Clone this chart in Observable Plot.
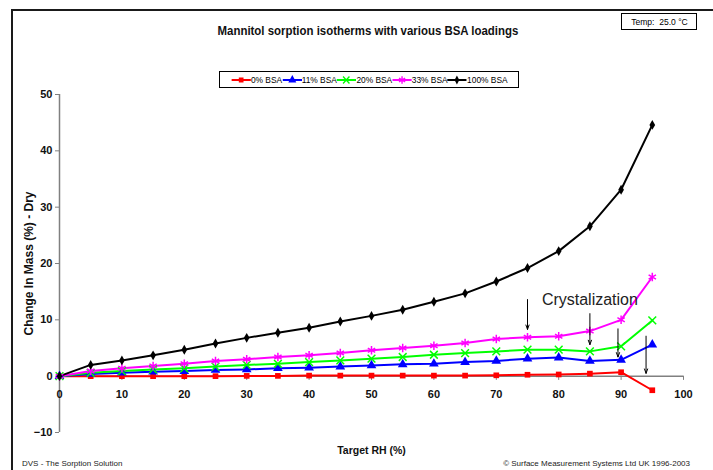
<!DOCTYPE html>
<html>
<head>
<meta charset="utf-8">
<script src="https://cdn.jsdelivr.net/npm/d3@7"></script>
<script src="https://cdn.jsdelivr.net/npm/@observablehq/plot@0.6"></script>
<style>
  html, body { margin: 0; padding: 0; background: #fff; }
  body { font-family: "Liberation Sans", Arial, sans-serif; }
  #wrap { position: relative; width: 713px; height: 470px; overflow: hidden; background: #fff; }
  #wrap svg.plot { position: absolute; left: 0; top: 0; }
  .frame { position: absolute; left: 11px; top: 9px; width: 710px; height: 470px; border-top: 2px solid #1a1a1a; border-left: 2px solid #1a1a1a; }
  .title { position: absolute; left: 0; width: 735px; top: 23px; text-align: center; font-weight: bold; font-size: 13px; color: #111; white-space: nowrap; }
  .title span { display: inline-block; transform: scaleX(0.88); }
  .temp { position: absolute; left: 621px; top: 13px; width: 74px; height: 15px; border: 1px solid #000; font-size: 9.5px; line-height: 15px; text-align: center; background: #fff; white-space: nowrap; }
  .temp span { display: inline-block; transform: scaleX(0.9); }
  .legend { position: absolute; left: 219px; top: 71px; width: 298px; height: 15px; border: 1px solid #000; display: flex; align-items: center; justify-content: center; background:#fff; white-space: nowrap; overflow: visible; }
  .legend .inner { display: flex; align-items: center; font-size: 9px; transform: scaleX(0.93); flex: none; }
  .legend .item { display: flex; align-items: center; }
  .footer { position: absolute; top: 459px; font-size: 8px; color: #222; white-space: nowrap; }
</style>
</head>
<body>
<div id="wrap">
  <div class="frame"></div>
  <div class="title"><span>Mannitol sorption isotherms with various BSA loadings</span></div>
  <div class="temp"><span>Temp:&nbsp; 25.0 °C</span></div>
  <div class="legend"><div class="inner" id="legend"></div></div>
  <div class="footer" style="left:22px">DVS - The Sorption Solution</div>
  <div class="footer" style="right:23px">© Surface Measurement Systems Ltd UK 1996-2003</div>
</div>
<script>
// ---- data ----
const rh = [0,5,10,15,20,25,30,35,40,45,50,55,60,65,70,75,80,85,90,95];
const bsa0   = [0,0,0,0,0,0,0.05,0.05,0.1,0.1,0.1,0.1,0.1,0.1,0.15,0.25,0.3,0.45,0.7,-2.5];
const bsa11  = [0,0.4,0.6,0.8,0.9,1.1,1.2,1.4,1.5,1.7,1.9,2.1,2.2,2.5,2.7,3.1,3.3,2.7,2.9,5.6];
const bsa20  = [0,0.6,0.9,1.2,1.4,1.7,2.0,2.2,2.5,2.8,3.1,3.4,3.8,4.1,4.4,4.7,4.7,4.4,5.3,9.9];
const bsa33  = [0,0.9,1.4,1.8,2.2,2.7,3.0,3.4,3.7,4.1,4.6,5.0,5.4,5.9,6.6,6.9,7.1,8.0,10.0,17.6];
const bsa100 = [0,2.0,2.8,3.7,4.7,5.8,6.8,7.7,8.6,9.7,10.7,11.8,13.2,14.7,16.8,19.2,22.2,26.6,33.1,44.6];
const seriesNames = ["0% BSA","11% BSA","20% BSA","33% BSA","100% BSA"];
const xTicks = [0,10,20,30,40,50,60,70,80,90,100];
const yTicks = [-10,0,10,20,30,40,50];
const arrows = [
  {x: 75,   y1: 13.6, y2: 8.3},
  {x: 85,   y1: 11.1, y2: 5.6},
  {x: 89.5, y1: 8.4,  y2: 3.4},
  {x: 94,   y1: 7.1,  y2: 0.5}
];
const note = [{x: 85, y: 13.5, text: "Crystalization"}];

const styles = [
  {color: "#FF0000", symbol: "square",   filled: true,  r: 3.2},
  {color: "#0000FF", symbol: "triangle", filled: true,  r: 3.6},
  {color: "#00FF00", symbol: "times",    filled: false, r: 3.6},
  {color: "#FF00FF", symbol: "asterisk", filled: false, r: 4},
  {color: "#000000", symbol: "diamond",  filled: true,  r: 3}
];
const allValues = [bsa0, bsa11, bsa20, bsa33, bsa100];
const series = seriesNames.map((name, i) => ({
  name, ...styles[i],
  data: rh.map((x, j) => ({x, y: allValues[i][j]}))
}));

const regular = "Liberation Sans, Arial, sans-serif";
const marks = [
  Plot.ruleX([0], {y1: -10, y2: 50, stroke: "#808080", strokeWidth: 1.5}),
  Plot.ruleY([0], {x1: 0, x2: 100, stroke: "#808080", strokeWidth: 1.5}),
  Plot.ruleX(xTicks, {x: d => d, y1: 0, y2: -0.75, stroke: "#808080"}),
  Plot.text(xTicks, {x: d => d, y: 0, dy: 18, text: d => String(d), fontWeight: "bold", fontSize: 11, fill: "#111"}),
  Plot.axisY(yTicks, {tickSize: 4, tickPadding: 3, fontWeight: "bold", fontSize: 11, label: null, stroke: "#808080", fill: "#111"}),
  Plot.text(["Change In Mass (%) - Dry"], {frameAnchor: "left", dx: -30, rotate: -90, textAnchor: "middle", fontWeight: "bold", fontSize: 12, fill: "#111"}),
  Plot.text(["Target RH (%)"], {frameAnchor: "bottom", dy: 21, fontWeight: "bold", fontSize: 10.5, fill: "#111"})
];
for (const s of series) {
  marks.push(Plot.line(s.data, {x: "x", y: "y", stroke: s.color, strokeWidth: 2}));
}
for (const s of series) {
  marks.push(Plot.dot(s.data, s.filled
    ? {x: "x", y: "y", symbol: s.symbol, r: s.r, fill: s.color, stroke: "none"}
    : {x: "x", y: "y", symbol: s.symbol, r: s.r, fill: "none", stroke: s.color, strokeWidth: 1.5}));
}
marks.push(Plot.arrow(arrows, {x1: "x", x2: "x", y1: "y1", y2: "y2", stroke: "#000", strokeWidth: 1, headLength: 7, headAngle: 40}));
marks.push(Plot.text(note, {x: "x", y: "y", text: "text", fontSize: 16, fill: "#222"}));

const chart = Plot.plot({
  width: 713, height: 470,
  marginLeft: 59, marginRight: 30, marginTop: 94, marginBottom: 38,
  style: {fontFamily: regular, background: "transparent"},
  x: {domain: [0, 100], axis: null},
  y: {domain: [-10, 50], axis: null},
  marks
});
chart.classList.add("plot");
document.getElementById("wrap").insertBefore(chart, document.querySelector(".title"));

// legend
const legend = d3.select("#legend");
const symMap = {square: d3.symbolSquare, triangle: d3.symbolTriangle, times: d3.symbolTimes, asterisk: d3.symbolAsterisk, diamond: d3.symbolDiamond};
series.forEach(s => {
  const item = legend.append("div").attr("class", "item");
  const svg = item.append("svg").attr("width", 21).attr("height", 10);
  svg.append("line").attr("x1", 0).attr("x2", 21).attr("y1", 5).attr("y2", 5).attr("stroke", s.color).attr("stroke-width", 2);
  const path = svg.append("path")
    .attr("transform", "translate(10.5,5)")
    .attr("d", d3.symbol(symMap[s.symbol], Math.PI * s.r * s.r * 0.8)());
  if (s.filled) path.attr("fill", s.color);
  else path.attr("fill", "none").attr("stroke", s.color).attr("stroke-width", 1.5);
  item.append("span").text(s.name);
});
</script>
</body>
</html>
